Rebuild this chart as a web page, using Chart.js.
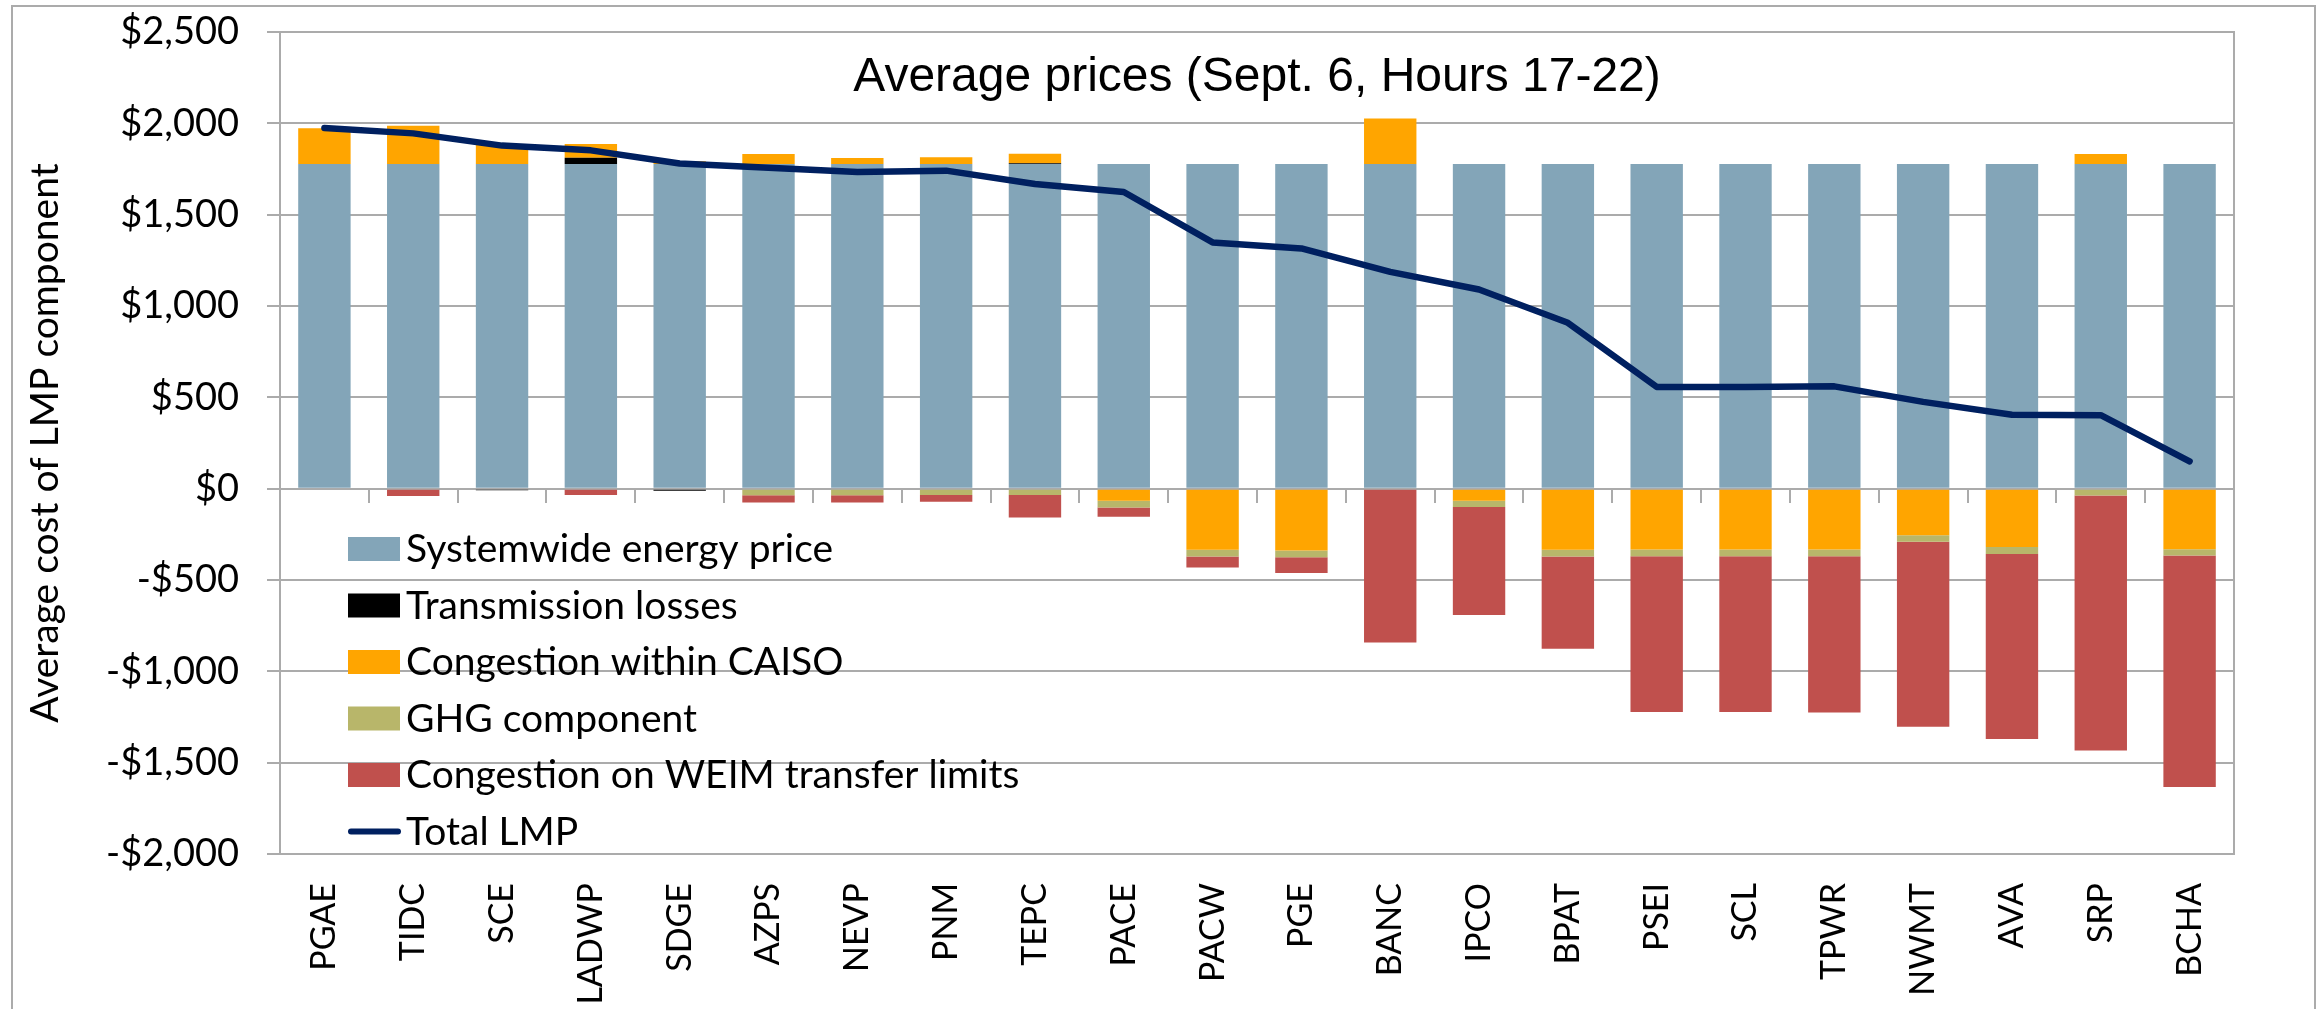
<!DOCTYPE html>
<html>
<head>
<meta charset="utf-8">
<title>Average prices (Sept. 6, Hours 17-22)</title>
<script src="https://cdn.jsdelivr.net/npm/chart.js@4/dist/chart.umd.min.js"></script>
<style>
  html, body { margin: 0; padding: 0; background: #fff; }
  #wrap { position: relative; width: 2320px; height: 1009px; overflow: hidden; }
  #frame { position: absolute; left: 11px; top: 5px; width: 2305px; height: 1100px;
           box-sizing: border-box; border: 2px solid #ababab; pointer-events: none; }
</style>
</head>
<body>
<div id="wrap">
  <canvas id="chart"></canvas>
  <div id="frame"></div>
</div>
<script>
// Balancing areas, left to right
const areas = ["PGAE", "TIDC", "SCE", "LADWP", "SDGE", "AZPS", "NEVP", "PNM", "TEPC", "PACE", "PACW",
               "PGE", "BANC", "IPCO", "BPAT", "PSEI", "SCL", "TPWR", "NWMT", "AVA", "SRP", "BCHA"]

// LMP components ($/MWh)
const systemwide = [1777, 1777, 1777, 1777, 1777, 1777, 1777, 1777, 1777, 1777, 1777,
                    1777, 1777, 1777, 1777, 1777, 1777, 1777, 1777, 1777, 1777, 1777]
const losses     = [0, 0, -8, 35, -12, 0, 0, 0, 4, 0, 0,
                    0, 0, 0, 0, 0, 0, 0, 0, 0, 0, 0]
const caisoCong  = [196, 210, 104, 75, 15, 55, 33, 37, 53, -66, -335,
                    -339, 250, -66, -335, -333, -333, -333, -255, -320, 55, -331]
const ghg        = [0, 0, 0, 0, 0, -36, -36, -35, -35, -37, -37,
                    -37, 0, -35, -37, -37, -37, -37, -35, -38, -37, -35]
const weimCong   = [0, -40, 0, -35, 0, -40, -40, -37, -123, -51, -59,
                    -86, -842, -590, -504, -853, -853, -855, -1013, -1013, -1397, -1267]
const totalLmp   = [1975, 1945, 1878, 1852, 1780, 1757, 1733, 1741, 1668, 1624, 1348,
                    1315, 1187, 1090, 908, 557, 557, 560, 475, 405, 402, 150]

const yTicks = { min: -2000, max: 2500, step: 500 }

const GRID = "#ababab"
const CAL = "Lato, 'Open Sans', sans-serif"

function dollars(v) {
  return (v < 0 ? "-" : "") + "$" + Math.abs(v).toLocaleString("en-US")
}

// title sits inside the plot area
const innerTitle = {
  id: "innerTitle",
  afterDraw(chart) {
    const { ctx, chartArea } = chart
    ctx.save()
    ctx.font = "48px 'Liberation Sans', Arial, sans-serif"
    ctx.fillStyle = "#000"
    ctx.textAlign = "center"
    ctx.textBaseline = "alphabetic"
    ctx.fillText("Average prices (Sept. 6, Hours 17-22)", (chartArea.left + chartArea.right) / 2, chartArea.top + 59)
    ctx.restore()
  }
}

// plot border (right side is not covered by a grid line)
const plotBorder = {
  id: "plotBorder",
  beforeDatasetsDraw(chart) {
    const { ctx, chartArea } = chart
    ctx.save()
    ctx.strokeStyle = GRID
    ctx.lineWidth = 2
    ctx.strokeRect(chartArea.left, chartArea.top, chartArea.right - chartArea.left, chartArea.bottom - chartArea.top)
    ctx.restore()
  }
}

// legend drawn inside the plot, lower left
const innerLegend = {
  id: "innerLegend",
  afterDatasetsDraw(chart) {
    const { ctx, chartArea } = chart
    const x0 = chartArea.left + 68
    let y = chartArea.top + 517
    ctx.save()
    ctx.font = "39px " + CAL
    ctx.textBaseline = "alphabetic"
    chart.data.datasets.forEach(ds => {
      if (ds.type === "line") {
        ctx.strokeStyle = ds.borderColor
        ctx.lineWidth = 6
        ctx.lineCap = "round"
        ctx.beginPath()
        ctx.moveTo(x0 + 3, y)
        ctx.lineTo(x0 + 50, y)
        ctx.stroke()
      } else {
        ctx.fillStyle = ds.backgroundColor
        ctx.fillRect(x0, y - 12, 52, 24)
      }
      ctx.fillStyle = "#000"
      ctx.fillText(ds.label, x0 + 58, y + 13)
      y += 56.5
    })
    ctx.restore()
  }
}

const barDefaults = { type: "bar", stack: "lmp", barPercentage: 0.59, categoryPercentage: 1.0, borderWidth: 0 }

new Chart(document.getElementById("chart"), {
  data: {
    labels: areas,
    datasets: [
      { ...barDefaults, label: "Systemwide energy price", data: systemwide, backgroundColor: "#83a5b8" },
      { ...barDefaults, label: "Transmission losses", data: losses, backgroundColor: "#000000" },
      { ...barDefaults, label: "Congestion within CAISO", data: caisoCong, backgroundColor: "#ffa500" },
      { ...barDefaults, label: "GHG component", data: ghg, backgroundColor: "#b8b66a" },
      { ...barDefaults, label: "Congestion on WEIM transfer limits", data: weimCong, backgroundColor: "#c0504d" },
      {
        type: "line", label: "Total LMP", data: totalLmp, stack: "total", order: -1,
        borderColor: "#002060", borderWidth: 6.5, pointRadius: 0, tension: 0,
        borderCapStyle: "round", borderJoinStyle: "round", fill: false
      }
    ]
  },
  options: {
    responsive: true,
    maintainAspectRatio: false,
    animation: false,
    layout: { padding: { left: 22, top: 32, right: 86, bottom: 0 } },
    plugins: {
      legend: { display: false },
      title: { display: false },
      tooltip: { enabled: false }
    },
    scales: {
      x: {
        type: "category",
        stacked: true,
        position: { y: 0 },
        offset: true,
        grid: { offset: true, drawOnChartArea: false, drawTicks: true, tickLength: 13, color: GRID, lineWidth: 2 },
        border: { display: true, color: GRID, width: 2 },
        ticks: { display: false }
      },
      x2: {
        type: "category",
        position: "bottom",
        offset: true,
        grid: { display: false, drawTicks: false },
        border: { display: false },
        ticks: {
          minRotation: 90, maxRotation: 90, autoSkip: false, padding: 29,
          color: "#000", font: { family: CAL, size: 34 }
        },
        afterFit(scale) { scale.height = 155 }
      },
      y: {
        stacked: true,
        min: yTicks.min,
        max: yTicks.max,
        grid: { color: GRID, lineWidth: 2, tickLength: 13 },
        border: { display: true, color: GRID, width: 2 },
        ticks: {
          stepSize: yTicks.step, padding: 28, color: "#000",
          font: { family: CAL, size: 38 },
          callback: v => dollars(v)
        },
        title: {
          display: true, text: "Average cost of LMP component", color: "#000",
          font: { family: CAL, size: 39, lineHeight: 1.2 }, padding: 0
        },
        afterFit(scale) {
          scale.width = 258
          // end labels may overhang the plot; don't let them push the plot down
          scale.paddingTop = 0
          scale.paddingBottom = 0
        }
      }
    }
  },
  plugins: [plotBorder, innerLegend, innerTitle]
})
</script>
</body>
</html>
